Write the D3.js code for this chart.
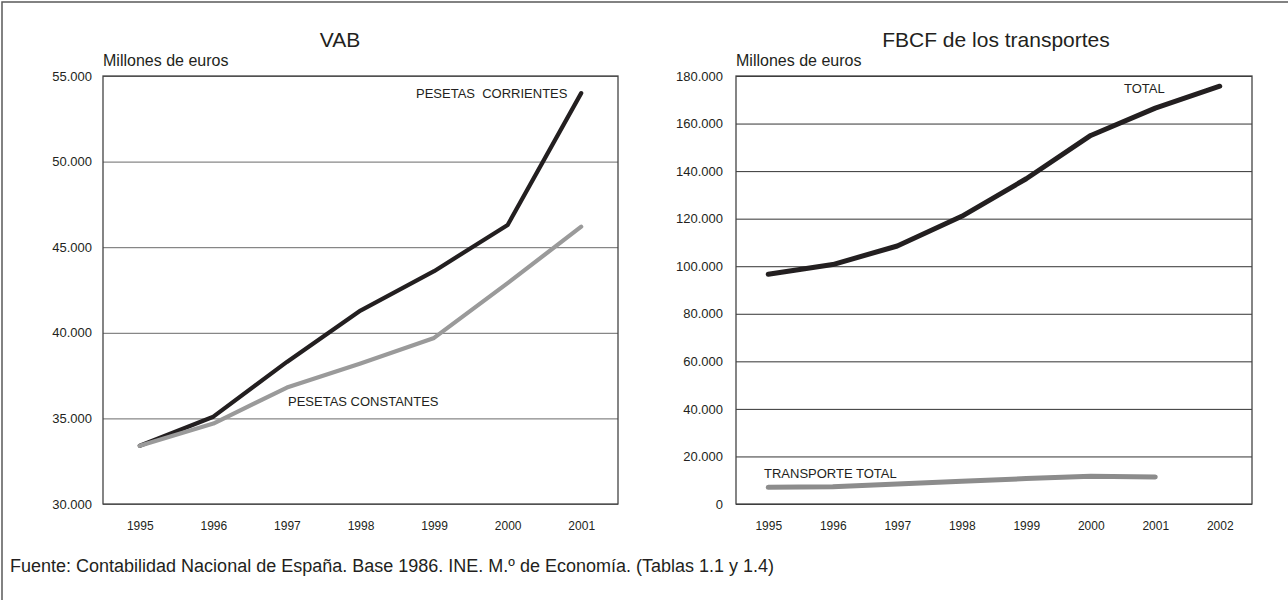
<!DOCTYPE html>
<html>
<head>
<meta charset="utf-8">
<script src="https://cdn.jsdelivr.net/npm/d3@7"></script>
<style>
  html, body { margin: 0; padding: 0; background: #fff; }
  svg { display: block; font-family: "Liberation Sans", Arial, Helvetica, sans-serif; }
</style>
</head>
<body>
<svg id="chart" width="1288" height="600"></svg>
<script>
// ---- Data ----
const vabYears = ["1995", "1996", "1997", "1998", "1999", "2000", "2001"];
const vabCorrientes = [33400, 35100, 38300, 41300, 43600, 46300, 54000];
const vabConstantes = [33400, 34700, 36800, 38200, 39700, 42900, 46200];
const vabTicks = [30000, 35000, 40000, 45000, 50000, 55000];

const fbcfYears = ["1995", "1996", "1997", "1998", "1999", "2000", "2001", "2002"];
const fbcfTotal = [96600, 100700, 108500, 121000, 136800, 155000, 166500, 175700];
const fbcfTransporte = [7000, 7300, 8400, 9600, 10700, 11700, 11400];
const fbcfTicks = [0, 20000, 40000, 60000, 80000, 100000, 120000, 140000, 160000, 180000];

const titles = ["VAB", "FBCF de los transportes"];
const unitLabel = "Millones de euros";
const sourceText = "Fuente: Contabilidad Nacional de España. Base 1986. INE. M.º de Economía. (Tablas 1.1 y 1.4)";

// ---- Setup ----
const svg = d3.select("#chart");
const loc = d3.formatLocale({ decimal: ",", thousands: ".", grouping: [3], currency: ["", ""] });
const fmt = loc.format(",");
const ink = "#231f20";

// outer frame (cropped at right/bottom)
svg.append("rect").attr("x", 2).attr("y", 2).attr("width", 1400).attr("height", 700)
  .attr("fill", "none").attr("stroke", "#5a5a5a").attr("stroke-width", 1.5);

function panel(opts) {
  const { x0, x1, y0, y1, years, ticks, domain, series, labelGap, title, titleX, gridColor } = opts;
  const g = svg.append("g");
  const x = d3.scalePoint().domain(years).range([x0, x1]).padding(0.5);
  const y = d3.scaleLinear().domain(domain).range([y1, y0]);

  // gridlines
  const grid = g.append("g").attr("transform", `translate(${x0},0)`)
    .call(d3.axisLeft(y).tickValues(ticks).tickSize(-(x1 - x0)).tickFormat(""));
  grid.select(".domain").remove();
  grid.selectAll("line").attr("stroke", gridColor).attr("stroke-width", 1);

  // frame
  g.append("rect").attr("x", x0).attr("y", y0).attr("width", x1 - x0).attr("height", y1 - y0)
    .attr("fill", "none").attr("stroke", "#444").attr("stroke-width", 1.3);

  // y tick labels
  const ya = g.append("g").attr("transform", `translate(${x0},0)`)
    .call(d3.axisLeft(y).tickValues(ticks).tickSize(0).tickPadding(labelGap).tickFormat(fmt));
  ya.select(".domain").remove();
  ya.selectAll("text").attr("font-size", 13).attr("fill", ink)
    .attr("font-family", "'Liberation Sans', Arial, sans-serif");

  // x tick labels
  const xa = g.append("g").attr("transform", `translate(0,${y1})`)
    .call(d3.axisBottom(x).tickSize(0).tickPadding(17));
  xa.select(".domain").remove();
  xa.selectAll("text").attr("font-size", 12).attr("fill", ink)
    .attr("font-family", "'Liberation Sans', Arial, sans-serif");

  // lines
  const line = d3.line().x((d, i) => x(years[i])).y(d => y(d));
  series.forEach(s => {
    g.append("path").datum(s.values).attr("d", line)
      .attr("fill", "none").attr("stroke", s.color).attr("stroke-width", s.width)
      .attr("stroke-linejoin", "round").attr("stroke-linecap", "round");
    g.append("text").attr("x", s.lx).attr("y", s.ly).attr("font-size", 13).attr("fill", ink)
      .attr("xml:space", "preserve").style("white-space", "pre").text(s.label);
  });

  // title & unit
  g.append("text").attr("x", titleX).attr("y", 47).attr("text-anchor", "middle")
    .attr("font-size", 21).attr("fill", ink).text(title);
  g.append("text").attr("x", x0).attr("y", 66).attr("font-size", 16).attr("fill", ink).text(unitLabel);
}

panel({
  x0: 103, x1: 618, y0: 76, y1: 504,
  years: vabYears, ticks: vabTicks, domain: [30000, 55000], labelGap: 11,
  title: titles[0], titleX: 340, gridColor: "#6a6a6a",
  series: [
    { values: vabCorrientes, color: "#231f20", width: 4.2, label: "PESETAS  CORRIENTES", lx: 416, ly: 98 },
    { values: vabConstantes, color: "#9a9a9a", width: 4.2, label: "PESETAS CONSTANTES", lx: 288, ly: 406 }
  ]
});

panel({
  x0: 736, x1: 1252, y0: 76, y1: 504,
  years: fbcfYears, ticks: fbcfTicks, domain: [0, 180000], labelGap: 13,
  title: titles[1], titleX: 996, gridColor: "#333",
  series: [
    { values: fbcfTotal, color: "#231f20", width: 5, label: "TOTAL", lx: 1124, ly: 93 },
    { values: fbcfTransporte, color: "#8c8c8c", width: 5, label: "TRANSPORTE TOTAL", lx: 764, ly: 478 }
  ]
});

svg.append("text").attr("x", 10).attr("y", 572).attr("font-size", 18).attr("fill", ink).text(sourceText);
</script>
</body>
</html>
